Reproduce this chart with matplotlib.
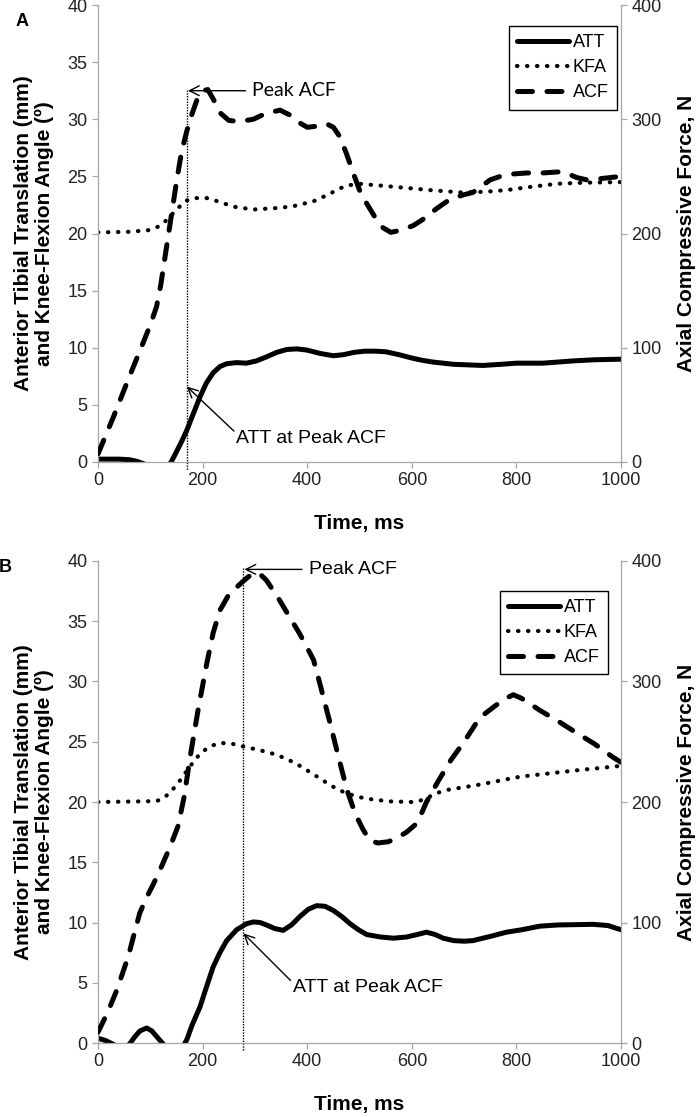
import matplotlib
matplotlib.use("Agg")
import matplotlib.pyplot as plt
from matplotlib.lines import Line2D

plt.rcParams["font.family"] = ["Liberation Sans", "DejaVu Sans"]

# ---- Panel A data (time in ms; ATT mm, KFA deg, ACF N) ----
att_a_t = [0, 40, 60, 75, 90, 110, 130, 140, 150, 160, 170, 182, 195, 207, 220, 233, 246,
           265, 284, 303, 322, 342, 361, 380, 399, 425, 450, 470, 490, 510, 530, 550, 575,
           600, 620, 640, 680, 736, 770, 800, 850, 880, 909, 950, 1000]
att_a = [0.25, 0.25, 0.2, 0.05, -0.2, -0.9, -0.6, 0.0, 0.9, 1.8, 2.8, 4.2, 5.7, 6.9, 7.8,
         8.35, 8.6, 8.7, 8.65, 8.85, 9.2, 9.6, 9.85, 9.9, 9.8, 9.5, 9.3, 9.4, 9.6, 9.7, 9.7,
         9.65, 9.4, 9.1, 8.9, 8.75, 8.55, 8.45, 8.55, 8.65, 8.65, 8.75, 8.85, 8.95, 9.0]

kfa_a_t = [0, 60, 99, 115, 125, 140, 157, 170, 185, 208, 230, 259, 297, 348, 374, 411,
           440, 460, 476, 500, 539, 635, 692, 740, 781, 830, 877, 930, 1000]
kfa_a = [20.1, 20.15, 20.3, 20.6, 20.9, 21.6, 22.4, 22.9, 23.1, 23.1, 22.8, 22.35, 22.1,
         22.25, 22.4, 22.8, 23.4, 23.9, 24.2, 24.35, 24.2, 23.8, 23.6, 23.65, 23.8, 24.1,
         24.35, 24.45, 24.5]

acf_a_t = [0, 30, 55, 70, 86, 100, 112, 120, 130, 140, 150, 160, 170, 180, 190, 200, 210,
           220, 235, 250, 270, 297, 320, 348, 370, 385, 400, 420, 437, 450, 462, 475, 488,
           500, 514, 530, 545, 560, 580, 603, 620, 648, 670, 686, 700, 717, 735, 750, 769,
           790, 820, 850, 883, 900, 915, 934, 960, 1000]
acf_a = [7, 40, 69, 86, 104, 120, 136, 155, 185, 215, 245, 272, 290, 305, 318, 325, 326,
         318, 305, 299, 298, 300, 305, 308, 303, 297, 293, 294, 296, 293, 285, 270, 253,
         238, 226, 214, 205, 201, 203, 207, 212, 222, 229, 232, 234, 236, 242, 247, 250,
         252, 253, 253, 254, 252, 249, 247, 248, 250]

peak_a_t, peak_a_acf, peak_a_att = 170, 32.6, 6.6

# ---- Panel B data ----
att_b_t = [0, 15, 29, 45, 60, 70, 80, 93, 103, 113, 125, 145, 160, 170, 180, 195, 207,
           220, 233, 246, 265, 284, 297, 310, 322, 338, 354, 370, 386, 402, 418, 434, 450,
           466, 482, 498, 514, 540, 565, 590, 610, 628, 645, 660, 680, 700, 717, 750, 781,
           810, 845, 880, 947, 975, 1000]
att_b = [0.4, 0.2, -0.1, -0.5, -0.1, 0.5, 1.0, 1.25, 1.0, 0.5, -0.1, -1.0, -0.5, 0.3, 1.5,
         3.0, 4.6, 6.3, 7.5, 8.5, 9.4, 9.9, 10.05, 10.0, 9.8, 9.5, 9.35, 9.8, 10.5, 11.1,
         11.4, 11.35, 11.0, 10.5, 9.9, 9.4, 9.0, 8.8, 8.7, 8.8, 9.0, 9.2, 9.0, 8.7, 8.5,
         8.45, 8.5, 8.85, 9.2, 9.4, 9.7, 9.8, 9.85, 9.75, 9.4]

kfa_b_t = [0, 112, 128, 144, 157, 170, 182, 195, 213, 233, 255, 278, 305, 335, 360, 386,
           412, 437, 456, 476, 500, 526, 560, 600, 615, 628, 645, 667, 724, 807, 909, 1000]
kfa_b = [20.0, 20.07, 20.4, 21.1, 21.8, 22.6, 23.3, 24.0, 24.6, 24.9, 24.85, 24.6, 24.35,
         24.0, 23.6, 23.0, 22.3, 21.6, 21.1, 20.7, 20.4, 20.2, 20.05, 20.0, 20.1, 20.3,
         20.7, 21.0, 21.4, 22.1, 22.6, 23.0]

acf_b_t = [0, 18, 36, 58, 70, 80, 92, 106, 122, 138, 153, 165, 176, 192, 208, 220, 233,
           250, 272, 285, 297, 310, 322, 345, 367, 385, 400, 412, 422, 432, 444, 460, 476,
           492, 507, 520, 535, 555, 571, 590, 609, 620, 628, 650, 675, 700, 730, 760, 780,
           794, 810, 845, 880, 909, 950, 985, 1000]
acf_b = [9, 25, 44, 72, 92, 108, 120, 132, 147, 163, 180, 205, 237, 278, 315, 340, 359,
         372, 381, 386, 390, 389, 384, 369, 353, 340, 328, 318, 302, 285, 265, 237, 210,
         190, 177, 168, 166, 167, 170, 175, 182, 192, 200, 217, 235, 250, 270, 280, 286,
         289, 286, 276, 267, 259, 248, 237, 233]

peak_b_t, peak_b_acf, peak_b_att = 278, 39.4, 9.1

time_ticks = [0, 200, 400, 600, 800, 1000]
left_ticks = [0, 5, 10, 15, 20, 25, 30, 35, 40]
right_ticks = [0, 100, 200, 300, 400]

GRAY = "#a6a6a6"
solid = dict(color="black", lw=3.6, solid_capstyle="round", solid_joinstyle="round")
dotted = dict(color="black", lw=3.0, linestyle=(0, (0.1, 2.3)), dash_capstyle="round")
dashed = dict(color="black", lw=3.6, linestyle=(0, (3.0, 2.9)), dash_capstyle="round",
              dash_joinstyle="round")


def style_axes(ax, ax2, xlabel_y):
    ax.set_xlim(0, 1000)
    ax.set_ylim(0, 40)
    ax2.set_ylim(0, 400)
    ax.set_xticks(time_ticks)
    ax.set_yticks(left_ticks)
    ax2.set_yticks(right_ticks)
    for a in (ax, ax2):
        a.spines["top"].set_visible(False)
        for s in ("left", "right", "bottom"):
            a.spines[s].set_color(GRAY)
            a.spines[s].set_linewidth(0.9)
        a.tick_params(colors=GRAY, labelcolor="#222222", labelsize=13,
                      length=4, width=0.9, direction="out")
    ax.spines["right"].set_visible(False)
    ax2.spines["left"].set_visible(False)
    ax2.spines["bottom"].set_visible(False)
    ax.set_xlabel("Time, ms", fontsize=15, fontweight="bold")
    ax.xaxis.set_label_coords(0.5, xlabel_y)
    ax.set_ylabel("Anterior Tibial Translation (mm)\nand Knee-Flexion Angle (º)",
                  fontsize=15, fontweight="bold", va="center", linespacing=1.15)
    ax.yaxis.set_label_coords(-0.122, 0.5)
    ax2.set_ylabel("Axial Compressive Force, N", fontsize=15, fontweight="bold",
                   va="center")
    ax2.yaxis.set_label_coords(1.126, 0.5)


def draw_panel(ax, att_t, att, kfa_t, kfa, acf_t, acf, peak_t, peak_acf, peak_att,
               legend_anchor, peak_font, xlabel_y):
    ax2 = ax.twinx()
    ax.plot(att_t, att, **solid)
    ax.plot(kfa_t, kfa, **dotted)
    ax2.plot(acf_t, acf, **dashed)
    ax.plot([peak_t, peak_t], [peak_acf, -0.7], color="black", lw=1.0,
            linestyle=(0, (1, 1)), clip_on=False)
    style_axes(ax, ax2, xlabel_y)

    arrow = dict(arrowstyle="->,head_length=0.7,head_width=0.35", lw=1.0, color="black",
                 shrinkA=0, shrinkB=0)
    ax.annotate("", xy=(peak_t + 2, peak_acf - 0.1), xytext=(peak_t + 112, peak_acf - 0.1),
                arrowprops=arrow)
    ax.text(peak_t + 125, peak_acf - 0.1, "Peak ACF", fontsize=14, va="center",
            ha="left", family=peak_font)
    ax.annotate("", xy=(peak_t, peak_att), xytext=(peak_t + 90, peak_att - 3.9),
                arrowprops=arrow)
    ax.text(peak_t + 94, peak_att - 4.5, "ATT at Peak ACF", fontsize=14, va="center",
            ha="left")

    handles = [Line2D([], [], **solid), Line2D([], [], **dotted), Line2D([], [], **dashed)]
    leg = ax2.legend(handles, ["ATT", "KFA", "ACF"], loc="upper right",
                     bbox_to_anchor=legend_anchor, fontsize=13, frameon=True,
                     fancybox=False, framealpha=1, edgecolor="black",
                     handlelength=2.9, handletextpad=0.2, labelspacing=0.45,
                     borderpad=0.45, borderaxespad=0)
    leg.get_frame().set_linewidth(1.0)
    return ax2


fig = plt.figure(figsize=(6.97, 11.17), dpi=100)
ax_a = fig.add_axes([0.1406, 0.5864, 0.7504, 0.4091])
ax_b = fig.add_axes([0.1406, 0.0662, 0.7504, 0.4316])

draw_panel(ax_a, att_a_t, att_a, kfa_a_t, kfa_a, acf_a_t, acf_a,
           peak_a_t, peak_a_acf, peak_a_att, (0.992, 0.954), ["Lato", "DejaVu Sans"],
           -0.114)
draw_panel(ax_b, att_b_t, att_b, kfa_b_t, kfa_b, acf_b_t, acf_b,
           peak_b_t, peak_b_acf, peak_b_att, (0.975, 0.938),
           ["Liberation Sans", "DejaVu Sans"], -0.108)

fig.text(22 / 697, 1 - 21 / 1117, "A", fontsize=13, fontweight="bold",
         ha="center", va="center")
fig.text(5 / 697, 1 - 568 / 1117, "B", fontsize=13, fontweight="bold",
         ha="center", va="center")

fig.savefig("out.png", dpi=100, facecolor="white")
